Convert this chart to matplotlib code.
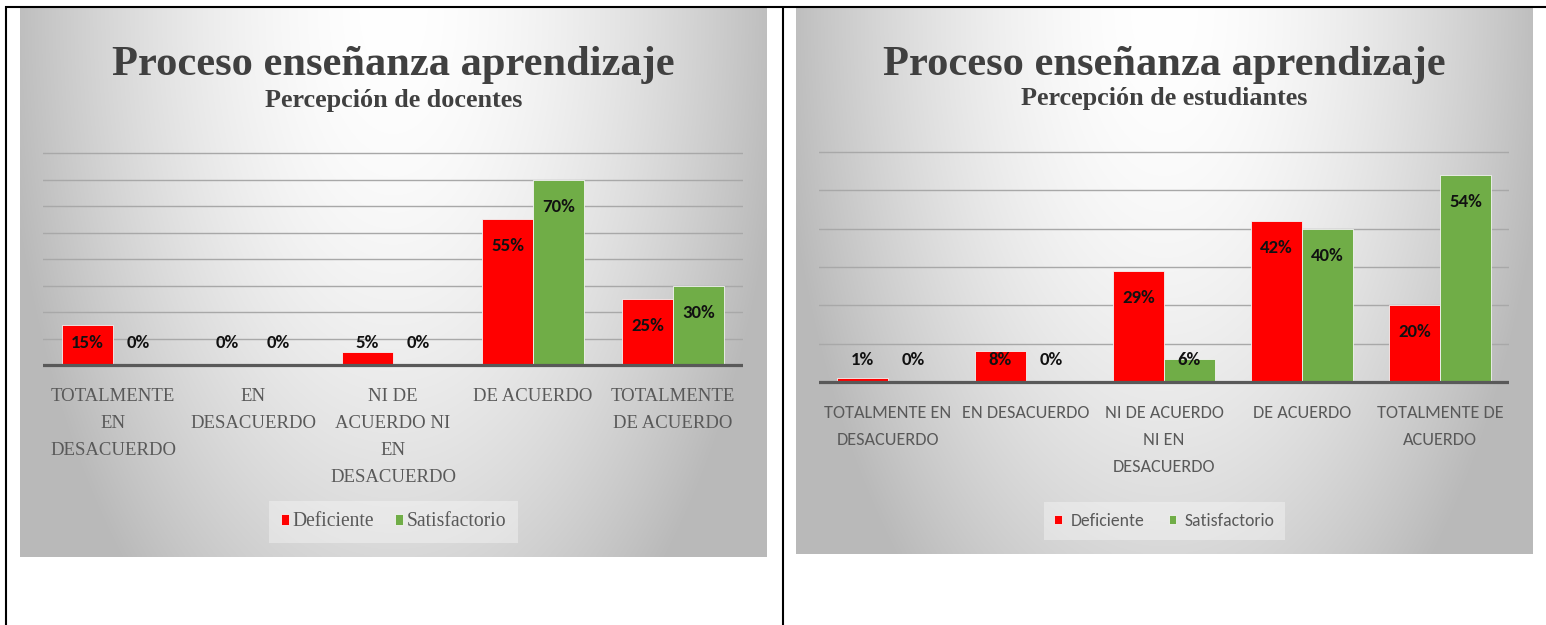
import numpy as np
import matplotlib
matplotlib.use("Agg")
import matplotlib.pyplot as plt
from matplotlib import font_manager
from matplotlib.lines import Line2D

# ---------------- data ----------------
title = "Proceso enseñanza aprendizaje"
sub_doc = "Percepción de docentes"
sub_est = "Percepción de estudiantes"
series = ["Deficiente", "Satisfactorio"]

cats_doc = ["TOTALMENTE\nEN\nDESACUERDO", "EN\nDESACUERDO",
            "NI DE\nACUERDO NI\nEN\nDESACUERDO", "DE ACUERDO",
            "TOTALMENTE\nDE ACUERDO"]
def_doc = [15, 0, 5, 55, 25]
sat_doc = [0, 0, 0, 70, 30]

cats_est = ["TOTALMENTE EN\nDESACUERDO", "EN DESACUERDO",
            "NI DE ACUERDO\nNI EN\nDESACUERDO", "DE ACUERDO",
            "TOTALMENTE DE\nACUERDO"]
def_est = [1, 8, 29, 42, 20]
sat_est = [0, 0, 6, 40, 54]

ymax_doc = 80
ymax_est = 60

RED = "#ff0000"
GREEN = "#70ad47"
TXT = "#595959"
TITLE_C = "#404040"

# ---------------- fonts ----------------
avail = {f.name for f in font_manager.fontManager.ttflist}
def pick(*names):
    for n in names:
        if n in avail:
            return n
    return "DejaVu Sans"
SERIF = pick("Liberation Serif", "DejaVu Serif")
SANS = pick("Carlito", "Lato", "Liberation Sans")

W, H = 1546, 625
fig = plt.figure(figsize=(W / 100, H / 100), dpi=100)
fig.patch.set_facecolor("white")
renderer = fig.canvas.get_renderer()

def text_w(s, size, **kw):
    t = fig.text(0, 0, s, fontsize=size, **kw)
    w = t.get_window_extent(renderer=renderer).width
    t.remove()
    return w

def fit(s, target, **kw):
    return 20 * target / text_w(s, 20, **kw)

def ls_for(size, family, target_px, weight="normal"):
    prop = font_manager.FontProperties(family=family, size=size, weight=weight)
    _, h, d = renderer.get_text_width_height_descent("lp", prop, ismath=False)
    return (target_px - d) / (h - d)

def rect(x0, y0, x1, y1):
    return [x0 / W, 1 - y1 / H, (x1 - x0) / W, (y1 - y0) / H]

# ---------------- background gradient ----------------
def gradient(nx=300, ny=240):
    x = np.linspace(0, 1, nx)
    y = np.linspace(0, 1, ny)
    X, Y = np.meshgrid(x, y)
    r = np.sqrt(((X - 0.5) / 0.5) ** 2 + (Y * 0.75) ** 2)
    r = np.clip(r, 0, 1.05)
    v = (255 - 64 * r ** 1.74) / 255
    return np.clip(np.dstack([v, v, v]), 0, 1)

def draw_bg(box):
    bg = fig.add_axes(rect(*box))
    bg.imshow(gradient(), aspect="auto", interpolation="bilinear",
              extent=[0, 1, 0, 1], origin="upper")
    bg.set_axis_off()

# ---------------- font sizes ----------------
title_fs = fit(title, 562, family=SERIF, fontweight="bold")
sub_fs = fit(sub_doc, 258, family=SERIF, fontweight="bold")
catL_fs = fit("TOTALMENTE", 124, family=SERIF)
catR_fs = fit("TOTALMENTE EN", 127, family=SANS)
legL_fs = fit("Deficiente", 82, family=SERIF)
legR_fs = fit("Deficiente", 73, family=SANS)
dl_fs = fit("70%", 33, family=SANS, fontweight="bold")

catL_ls = ls_for(catL_fs, SERIF, 27)
catR_ls = ls_for(catR_fs, SANS, 27)


def draw_chart(bg_box, px0, px1, top_px, base_px, ymax, cats, dvals, svals,
               cat_family, cat_fs, cat_ls, sub, sub_base, leg_family, leg_fs,
               leg_cy, hpad, colsp):
    draw_bg(bg_box)
    k = (base_px - top_px) / ymax  # px per unit
    m = 3
    ax = fig.add_axes(rect(px0, top_px - m * k, px1, base_px + m * k))
    ax.set_facecolor("none")
    ax.set_ylim(-m, ymax + m)
    ax.set_xlim(-0.5, 4.5)
    for sp in ax.spines.values():
        sp.set_visible(False)
    ax.set_yticks(np.arange(10, ymax + 1, 10))
    ax.set_yticklabels([])
    ax.set_xticks([])
    ax.tick_params(length=0)
    ax.grid(axis="y", color="#a8a8a8", lw=1.0, zorder=0)
    ax.set_axisbelow(True)

    n = len(cats)
    x = np.arange(n)
    bw = 51 / ((px1 - px0) / n)
    b1 = ax.bar(x - bw / 2, dvals, bw, color=RED, edgecolor="#f4f4f4",
                linewidth=0.6, zorder=2, label=series[0])
    b2 = ax.bar(x + bw / 2, svals, bw, color=GREEN, edgecolor="#f4f4f4",
                linewidth=0.6, zorder=2, label=series[1])
    ax.axhline(0, color="#595959", lw=2.3, zorder=3)

    for off, vals in ((-bw / 2, dvals), (bw / 2, svals)):
        for i, v in enumerate(vals):
            y = max(v - 32 / k, 17 / k)
            ax.text(i + off, y, f"{v}%", ha="center", va="baseline",
                    fontsize=dl_fs, fontweight="bold", family=SANS,
                    color="#111111", zorder=4)

    for i, lab in enumerate(cats):
        ax.annotate(lab, xy=(i, 0), xycoords="data", xytext=(0, -23),
                    textcoords="offset pixels", ha="center", va="top",
                    multialignment="center", linespacing=cat_ls,
                    fontsize=cat_fs, family=cat_family, color=TXT)

    cx = (bg_box[0] + bg_box[2]) / 2
    fig.text(cx / W, 1 - 75 / H, title, ha="center", va="baseline",
             fontsize=title_fs, fontweight="bold", family=SERIF, color=TITLE_C)
    fig.text(cx / W, 1 - sub_base / H, sub, ha="center", va="baseline",
             fontsize=sub_fs, fontweight="bold", family=SERIF, color=TITLE_C)

    leg = fig.legend([b1, b2], series, loc="center",
                     bbox_to_anchor=(cx / W, 1 - leg_cy / H), ncol=2,
                     frameon=True, fancybox=False, framealpha=0.35,
                     facecolor="white", edgecolor="none",
                     borderpad=0.6, handlelength=0.42, handleheight=0.42,
                     handletextpad=hpad, columnspacing=colsp,
                     prop=font_manager.FontProperties(family=leg_family,
                                                      size=leg_fs),
                     labelcolor=TXT)
    leg.get_frame().set_linewidth(0)
    return ax


draw_chart((20, 7, 767, 557), 43, 743, 153, 365, ymax_doc, cats_doc,
           def_doc, sat_doc, SERIF, catL_fs, catL_ls, sub_doc, 107,
           SERIF, legL_fs, 522, 0.15, 1.1)
draw_chart((796, 7, 1533, 554), 819, 1509, 152, 382, ymax_est, cats_est,
           def_est, sat_est, SANS, catR_fs, catR_ls, sub_est, 105,
           SANS, legR_fs, 521, 0.5, 1.4)

# ---------------- table borders ----------------
def fline(x0, y0, x1, y1, lw=1.5):
    fig.add_artist(Line2D([x0 / W, x1 / W], [1 - y0 / H, 1 - y1 / H],
                          transform=fig.transFigure, color="black", lw=lw,
                          solid_capstyle="butt"))

fline(5, 6.5, W, 6.5)
fline(6, 5.5, 6, H)
fline(783, 5.5, 783, H)

fig.savefig("out.png", dpi=100, facecolor="white")
